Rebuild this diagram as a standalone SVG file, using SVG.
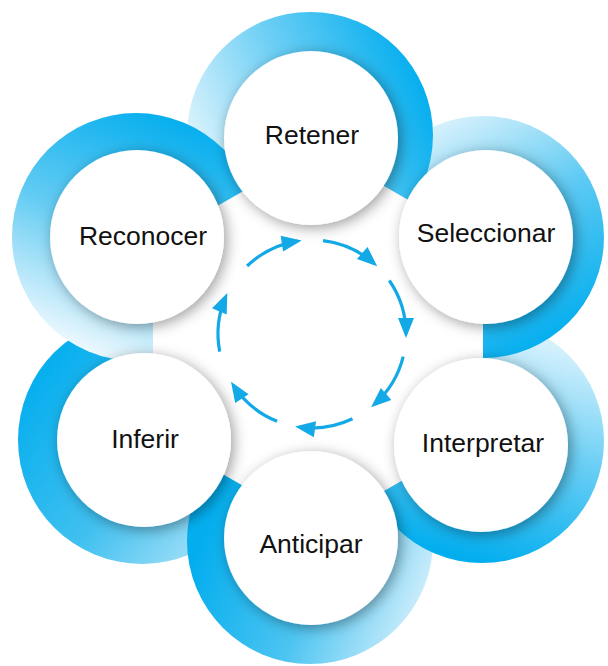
<svg xmlns="http://www.w3.org/2000/svg" width="608" height="666" viewBox="0 0 608 666">
  <style>
    .disc { fill: #ffffff; filter: url(#shadow); }
    .label { font-family: "Liberation Sans", Arial, sans-serif; font-size: 26.5px; fill: #111111; text-anchor: middle; }
    .arrow { fill: none; stroke: #12a9e6; stroke-width: 3.2; marker-end: url(#head); }
  </style>
  <defs>
    <filter id="shadow" x="-25%" y="-25%" width="150%" height="150%">
      <feDropShadow dx="3" dy="3" stdDeviation="7" flood-color="#000000" flood-opacity="0.38"/>
    </filter>
    <marker id="head" markerUnits="userSpaceOnUse" viewBox="0 0 20 16" markerWidth="20" markerHeight="16" refX="16" refY="8" orient="auto" overflow="visible">
      <path d="M0,0 L20,8 L0,16 Z" fill="#12a9e6"/>
    </marker>
    <linearGradient id="gRet" x1="0.03" y1="0.7" x2="0.97" y2="0.3">
      <stop offset="0" stop-color="#eaf8fd"/>
      <stop offset="0.5" stop-color="#6dcff5"/>
      <stop offset="1" stop-color="#04aeee"/>
    </linearGradient>
    <linearGradient id="gRec" x1="0.35" y1="1" x2="0.75" y2="0.05">
      <stop offset="0" stop-color="#f2fafe"/>
      <stop offset="0.5" stop-color="#62cbf3"/>
      <stop offset="1" stop-color="#04aeee"/>
    </linearGradient>
    <linearGradient id="gSel" x1="0.15" y1="0.05" x2="0.65" y2="1">
      <stop offset="0" stop-color="#e6f6fd"/>
      <stop offset="0.5" stop-color="#5ecaf3"/>
      <stop offset="1" stop-color="#04aeee"/>
    </linearGradient>
    <linearGradient id="gInt" x1="0.6" y1="0" x2="0.35" y2="0.95">
      <stop offset="0" stop-color="#e2f5fd"/>
      <stop offset="0.5" stop-color="#6bcff5"/>
      <stop offset="1" stop-color="#04aeee"/>
    </linearGradient>
    <linearGradient id="gInf" x1="0" y1="0.3" x2="0.9" y2="1">
      <stop offset="0" stop-color="#04aeee"/>
      <stop offset="0.5" stop-color="#40c0f0"/>
      <stop offset="1" stop-color="#c2eafa"/>
    </linearGradient>
    <linearGradient id="gAnt" x1="0.1" y1="0.4" x2="1" y2="0.75">
      <stop offset="0" stop-color="#04aeee"/>
      <stop offset="0.5" stop-color="#4cc4f1"/>
      <stop offset="1" stop-color="#d8f1fc"/>
    </linearGradient>
  </defs>

  <g id="rings">
    <circle id="ring-inferir" cx="142" cy="440" r="124" fill="url(#gInf)"/>
    <circle id="ring-anticipar" cx="310" cy="541" r="123" fill="url(#gAnt)"/>
    <circle id="ring-interpretar" cx="482" cy="441" r="122" fill="url(#gInt)"/>
    <circle id="ring-seleccionar" cx="483" cy="237" r="121" fill="url(#gSel)"/>
    <circle id="ring-retener" cx="310" cy="135" r="123" fill="url(#gRet)"/>
    <circle id="ring-reconocer" cx="136" cy="237" r="124" fill="url(#gRec)"/>
  </g>

  <polygon id="center" points="318,148 483,243 483,434 318,529 153,434 153,243" fill="#ffffff"/>

  <g id="node-retener">
    <circle class="disc" cx="311" cy="138" r="87"/>
    <text class="label" x="312" y="144">Retener</text>
  </g>
  <g id="node-seleccionar">
    <circle class="disc" cx="486" cy="237" r="87"/>
    <text class="label" x="486" y="242">Seleccionar</text>
  </g>
  <g id="node-interpretar">
    <circle class="disc" cx="481" cy="445" r="87"/>
    <text class="label" x="483" y="452">Interpretar</text>
  </g>
  <g id="node-anticipar">
    <circle class="disc" cx="311" cy="538" r="87"/>
    <text class="label" x="311" y="553">Anticipar</text>
  </g>
  <g id="node-inferir">
    <circle class="disc" cx="144" cy="440" r="87"/>
    <text class="label" x="145" y="448">Inferir</text>
  </g>
  <g id="node-reconocer">
    <circle class="disc" cx="137" cy="237" r="87"/>
    <text class="label" x="143" y="245">Reconocer</text>
  </g>

  <g id="connectors">
    <path class="arrow" d="M247.1,266 A94,94 0 0 1 297.7,241.1"/>
    <path class="arrow" d="M323,240.6 A94,94 0 0 1 374.2,263.6"/>
    <path class="arrow" d="M389.3,280.5 A94,94 0 0 1 406,334.1"/>
    <path class="arrow" d="M403.2,356.7 A94,94 0 0 1 374.1,404.6"/>
    <path class="arrow" d="M352.5,418.8 A94,94 0 0 1 299.1,427.1"/>
    <path class="arrow" d="M277.1,421.3 A94,94 0 0 1 233.2,385.2"/>
    <path class="arrow" d="M219.7,351.6 A94,94 0 0 1 225.7,296.7"/>
  </g>
</svg>
